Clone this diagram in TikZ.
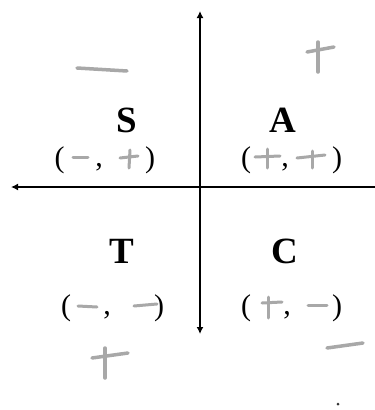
\documentclass[tikz,border=0pt]{standalone}
\usepackage{fontspec}
\setmainfont{Liberation Serif}
\usetikzlibrary{arrows.meta}
\definecolor{pencil}{RGB}{168,168,168}
\begin{document}
\begin{tikzpicture}[x=1pt,y=-1pt,
  axisline/.style={line width=1.8pt,black},
  tipstyle/.style={-{Latex[length=7pt,width=7pt]}},
  quadlabel/.style={font=\fontsize{37}{40}\selectfont\bfseries,inner sep=0pt,anchor=center},
  paren/.style={font=\fontsize{30}{32}\selectfont,inner sep=0pt,anchor=center},
  commamark/.style={font=\fontsize{30}{32}\selectfont,inner sep=0pt,anchor=base},
  pencilstroke/.style={line width=3pt,pencil,line cap=round,line join=round},
  bigstroke/.style={line width=3.5pt,pencil,line cap=round}]
\useasboundingbox (0,0) rectangle (375,410);
\fill[white] (0,0) rectangle (375,410);
% axes
\coordinate (origin) at (200,187);
\coordinate (top) at (200,11);
\coordinate (bottom) at (200,334);
\coordinate (left) at (11,187);
\coordinate (right) at (375,187);
\draw[axisline,{Latex[length=7pt,width=7pt]}-{Latex[length=7pt,width=7pt]}] (bottom) -- (top);
\draw[axisline,tipstyle] (right) -- (left);
% quadrant letters
\node[quadlabel] (S) at (127,120) {S};
\node[quadlabel] (A) at (283,120) {A};
\node[quadlabel] (T) at (122,251) {T};
\node[quadlabel] (C) at (285,251) {C};
% S pair
\node[paren] (lpS) at (59.5,160) {(};
\node[commamark] (cmS) at (99,166) {,};
\node[paren] (rpS) at (150,160) {)};
\draw[pencilstroke] (73,157) -- (88,157);
\draw[pencilstroke] (120,158) -- (138,156);
\draw[pencilstroke] (130,150) -- (129,168);
% A pair
\node[paren] (lpA) at (246,160) {(};
\node[commamark] (cmA) at (285,166) {,};
\node[paren] (rpA) at (337,160) {)};
\draw[pencilstroke] (255,157) -- (280,156);
\draw[pencilstroke] (267,149) -- (267,168);
\draw[pencilstroke] (297,158) -- (325,155);
\draw[pencilstroke] (312,151) -- (312,168);
% T pair
\node[paren] (lpT) at (66,308.5) {(};
\node[commamark] (cmT) at (107,314) {,};
\node[paren] (rpT) at (159,308.5) {)};
\draw[pencilstroke] (78,306) -- (97,307);
\draw[pencilstroke] (134,306) -- (157,304);
% C pair
\node[paren] (lpC) at (246,308.5) {(};
\node[commamark] (cmC) at (287,314) {,};
\node[paren] (rpC) at (337,308.5) {)};
\draw[pencilstroke] (262,303) -- (282,302);
\draw[pencilstroke] (268,297) -- (268,318);
\draw[pencilstroke] (308,305) -- (327,305);
% loose pencil marks
\draw[bigstroke] (77,68) -- (127,71);
\draw[bigstroke] (307,52) -- (334,47);
\draw[bigstroke] (318,42) -- (318,72);
\draw[bigstroke] (92,358) -- (128,353);
\draw[bigstroke] (105,348) -- (105,378);
\draw[bigstroke] (327,348) -- (363,343);
\fill[black!80] (338,404) circle (1.5pt);
\end{tikzpicture}
\end{document}
